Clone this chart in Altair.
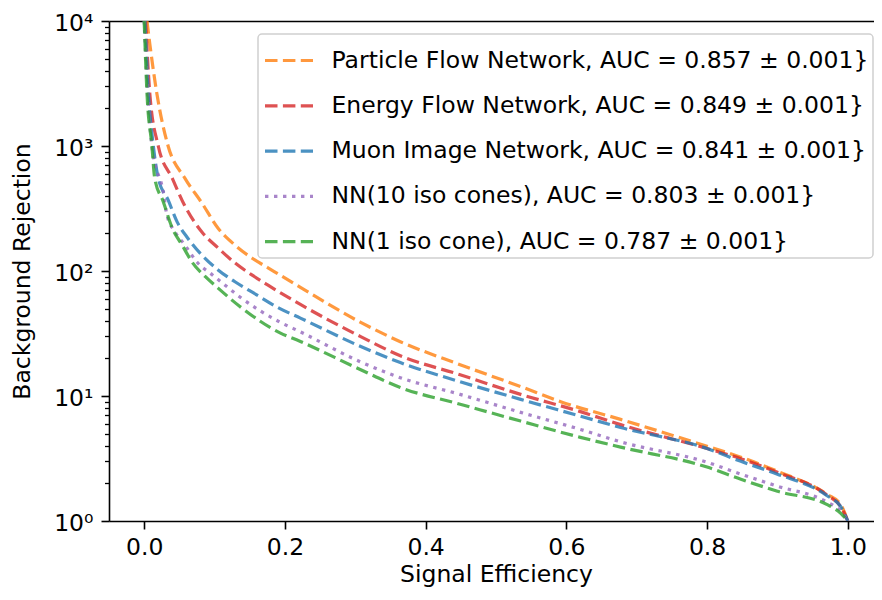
import altair as alt
import pandas as pd

FONT = "DejaVu Sans"
FS = 23.5

series_names = [
    "Particle Flow Network, AUC = 0.857 ± 0.001}",
    "Energy Flow Network, AUC = 0.849 ± 0.001}",
    "Muon Image Network, AUC = 0.841 ± 0.001}",
    "NN(10 iso cones), AUC = 0.803 ± 0.001}",
    "NN(1 iso cone), AUC = 0.787 ± 0.001}",
]
series_colors = ["#ff7f0e", "#d62728", "#1f77b4", "#9467bd", "#2ca02c"]
series_dashes = [[12.5, 5.4], [12.5, 5.4], [12.5, 5.4], [3.4, 5.6], [12.5, 5.4]]

pfn_x = [0.004, 0.008, 0.018, 0.034, 0.058, 0.082, 0.105, 0.129, 0.153, 0.176, 0.222, 0.307,
         0.364, 0.449, 0.535, 0.592, 0.677, 0.8, 0.848, 0.9, 0.97, 0.99, 1.0]
pfn_y = [10000, 6560, 2630, 1000, 551, 350, 220, 161, 127, 106, 74, 39,
         27.2, 17.8, 11.9, 9.0, 6.5, 3.96, 3.24, 2.5, 1.64, 1.35, 1.0]

efn_x = [0.002, 0.008, 0.02, 0.04, 0.058, 0.082, 0.105, 0.129, 0.153, 0.176, 0.222, 0.307,
         0.364, 0.449, 0.535, 0.62, 0.677, 0.8, 0.848, 0.9, 0.97, 0.99, 1.0]
efn_y = [10000, 2630, 1000, 551, 330, 205, 153, 116, 93, 77, 54, 30,
         21, 14.8, 10.3, 7.5, 5.9, 3.8, 3.15, 2.45, 1.62, 1.3, 1.0]

min_x = [0.001, 0.006, 0.013, 0.02, 0.034, 0.047, 0.062, 0.082, 0.105, 0.129, 0.153, 0.193,
         0.222, 0.307, 0.364, 0.449, 0.535, 0.62, 0.677, 0.8, 0.848, 0.9, 0.97, 0.99, 1.0]
min_y = [10000, 2630, 1000, 551, 370, 246, 183, 134, 102, 82, 68, 50,
         42, 25, 18.5, 13, 9.4, 6.9, 5.6, 3.8, 3.0, 2.37, 1.6, 1.3, 1.0]

nn10_x = [0.0, 0.005, 0.011, 0.028, 0.032, 0.044, 0.058, 0.075, 0.097, 0.115, 0.136, 0.193,
          0.222, 0.307, 0.364, 0.449, 0.535, 0.62, 0.677, 0.8, 0.848, 0.9, 0.97, 0.99, 1.0]
nn10_y = [10000, 2630, 1000, 403, 285, 205, 161, 118, 93, 77, 62, 39,
          32.6, 18.8, 14, 10.3, 7.4, 5.4, 4.3, 2.95, 2.37, 1.9, 1.42, 1.2, 1.0]

nn1_x = [0.0, 0.004, 0.011, 0.015, 0.027, 0.04, 0.054, 0.068, 0.087, 0.105, 0.136, 0.193,
         0.222, 0.307, 0.364, 0.449, 0.535, 0.62, 0.677, 0.8, 0.848, 0.9, 0.97, 0.99, 1.0]
nn1_y = [10000, 2630, 1000, 551, 360, 220, 161, 118, 90, 73, 52, 32,
         27.3, 16.3, 11.7, 8.6, 6.3, 4.67, 3.9, 2.7, 2.16, 1.73, 1.36, 1.15, 1.0]

x_ticks = [0.0, 0.2, 0.4, 0.6, 0.8, 1.0]
y_major = [1, 10, 100, 1000, 10000]
y_minor = [m * 10 ** k for k in range(4) for m in range(2, 10)]

all_x = [pfn_x, efn_x, min_x, nn10_x, nn1_x]
all_y = [pfn_y, efn_y, min_y, nn10_y, nn1_y]
rows = []
for name, xs, ys in zip(series_names, all_x, all_y):
    for xv, yv in zip(xs, ys):
        rows.append({"series": name, "eff": xv, "rej": yv})
df = pd.DataFrame(rows)

# right end trimmed so the page does not overflow the 882px window
x_scale = alt.Scale(domain=[-0.05, 1.0372], nice=False, zero=False)
y_scale = alt.Scale(type="log", domain=[1, 10000], nice=False)

legend = alt.Legend(
    title=None, orient="none", legendX=149, legendY=13,
    symbolType="M-1.2,0H1.2", symbolSize=1600, symbolStrokeWidth=3.2,
    symbolOpacity=0.8, symbolOffset=4.5, symbolFillColor="transparent",
    labelOffset=20.5, labelFont=FONT, labelFontSize=FS, labelColor="black",
    labelLimit=800, labelExpr="datum.label + '\u2002\u2002'",
    padding=4.5, rowPadding=11.3, strokeColor="#d0d0d0",
    fillColor="rgba(255,255,255,0.8)", cornerRadius=4,
)

lines = alt.Chart(df).mark_line(
    strokeWidth=3.2, opacity=0.8, clip=True, strokeCap="butt", interpolate="monotone"
).encode(
    x=alt.X("eff:Q", scale=x_scale, axis=alt.Axis(
        orient="bottom", values=x_ticks, format=".1f", grid=False, labelFlush=False,
        tickSize=8, tickWidth=1.6, tickColor="black",
        domainColor="black", domainWidth=1.6,
        labelFont=FONT, labelFontSize=FS, labelColor="black", labelPadding=6,
        title="Signal Efficiency", titleFont=FONT, titleFontSize=FS,
        titleFontWeight="normal", titleColor="black",
        titleX=387, titleY=60, titleBaseline="alphabetic", titleAlign="center",
    )),
    y=alt.Y("rej:Q", scale=y_scale, axis=alt.Axis(
        orient="left", values=y_major, grid=False, labelFlush=False,
        labelExpr="'10' + ['\u2070','\u00b9','\u00b2','\u00b3','\u2074'][round(log(datum.value)/LN10)]",
        tickSize=8, tickWidth=1.6, tickColor="black",
        domainColor="black", domainWidth=1.6,
        labelFont=FONT, labelFontSize=FS, labelColor="black", labelPadding=8,
        labelBaseline="middle", labelOffset=2,
        title="Background Rejection", titleFont=FONT, titleFontSize=FS,
        titleFontWeight="normal", titleColor="black",
        titleX=-79.5, titleY=250, titleBaseline="alphabetic", titleAlign="center",
        titleAngle=270,
    )),
    color=alt.Color("series:N", scale=alt.Scale(domain=series_names, range=series_colors), legend=legend),
    strokeDash=alt.StrokeDash("series:N", scale=alt.Scale(domain=series_names, range=series_dashes), legend=legend),
)

frame = alt.Chart(df).mark_point(opacity=0, size=1).encode(
    x=alt.X("eff:Q", scale=x_scale, axis=alt.Axis(
        orient="top", labels=False, ticks=False, grid=False, domain=True,
        domainColor="black", domainWidth=1.6, title=None,
    )),
    y=alt.Y("rej:Q", scale=y_scale, axis=alt.Axis(
        orient="left", values=y_minor, labels=False, ticks=True, domain=False, grid=False,
        tickSize=4.5, tickWidth=1.3, tickColor="black", title=None,
    )),
)

chart = alt.layer(lines, frame).resolve_axis(x="independent", y="independent").properties(
    width=765, height=500,
    autosize=alt.AutoSizeParams(type="none"),
    padding={"left": 101, "top": 13, "right": 0, "bottom": 67},
).configure(font=FONT).configure_view(strokeWidth=0).configure_legend(strokeWidth=1.5)

chart.save("out.html", embed_options={"renderer": "svg", "actions": False})
